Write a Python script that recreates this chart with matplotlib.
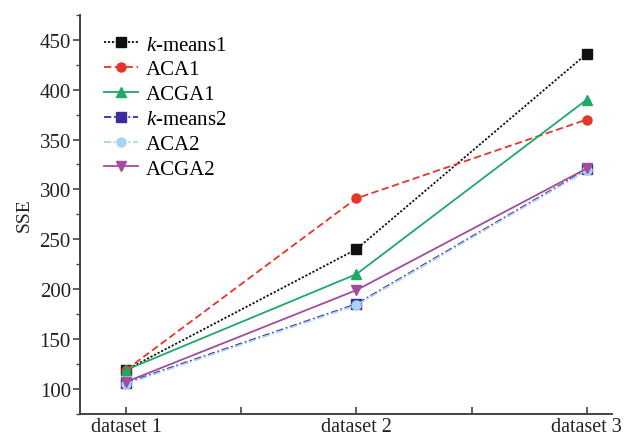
#!/usr/bin/env python
import numpy as np
import matplotlib as mpl
mpl.use('Agg')
import matplotlib.pyplot as plt
from matplotlib.ticker import MultipleLocator

# SSE
datasets = ["dataset 1", "dataset 2", "dataset 3"]
kmeans1 = [119, 240, 436]
aca1 = [119, 291, 370]
acga1 = [119, 215, 390]
kmeans2 = [106, 185, 320]
aca2 = [105, 184, 319]
acga2 = [107, 199, 321]

series = [
    (r"$k$-means1", kmeans1, "#111111", (0, (1.2, 1)), "s"),
    ("ACA1", aca1, "#e5352a", (0, (4, 2)), "o"),
    ("ACGA1", acga1, "#1fa866", "-", "^"),
    (r"$k$-means2", kmeans2, "#3b2c9c", (0, (4, 1.5, 1, 1.5)), "s"),
    ("ACA2", aca2, "#a9d3f2", (0, (4, 1.5, 1, 1.5)), "o"),
    ("ACGA2", acga2, "#a14c9d", "-", "v"),
]

plt.rcParams['font.family'] = ['Liberation Serif', 'DejaVu Serif']
plt.rcParams['mathtext.fontset'] = 'custom'
plt.rcParams['mathtext.it'] = 'Liberation Serif:italic'
plt.rcParams['mathtext.rm'] = 'Liberation Serif'

fig = plt.figure(figsize=(6.24, 4.39), dpi=100)
ax = fig.add_axes([0.128, 0.055, 0.853, 0.909])

x = np.arange(len(datasets))
for label, vals, color, ls, marker in series:
    ax.plot(x, vals, color=color, linestyle=ls, linewidth=1.3,
            marker=marker, markersize=6.5, label=label)

ax.set_xlim(-0.2, 2.11)
ax.set_ylim(75, 475)
ax.set_xticks(x)
ax.set_xticklabels(datasets)
ax.xaxis.set_minor_locator(MultipleLocator(0.5))
ax.yaxis.set_minor_locator(MultipleLocator(25))
ax.set_yticks(np.arange(100, 451, 50))

for side in ['top', 'right']:
    ax.spines[side].set_visible(False)
for side in ['left', 'bottom']:
    ax.spines[side].set_color('#444444')
    ax.spines[side].set_linewidth(1.4)

ax.tick_params(axis='y', which='major', direction='out', length=5,
               width=1.2, colors='#444444', labelsize=15, labelcolor='#222222',
               pad=1.5)
ax.tick_params(axis='y', which='minor', direction='out', length=3,
               width=1.0, colors='#444444')
ax.tick_params(axis='x', which='both', direction='in', length=5,
               width=1.2, colors='#444444', labelsize=14.5, labelcolor='#222222',
               pad=2)

ax.set_ylabel("SSE", fontsize=14, color='#222222', labelpad=5)

ax.legend(loc='upper left', frameon=False, fontsize=15,
          bbox_to_anchor=(0.03, 0.97), handlelength=1.6,
          handletextpad=0.4, labelspacing=0.25, borderaxespad=0.0)

fig.savefig("out.png", dpi=100)
plt.close()
